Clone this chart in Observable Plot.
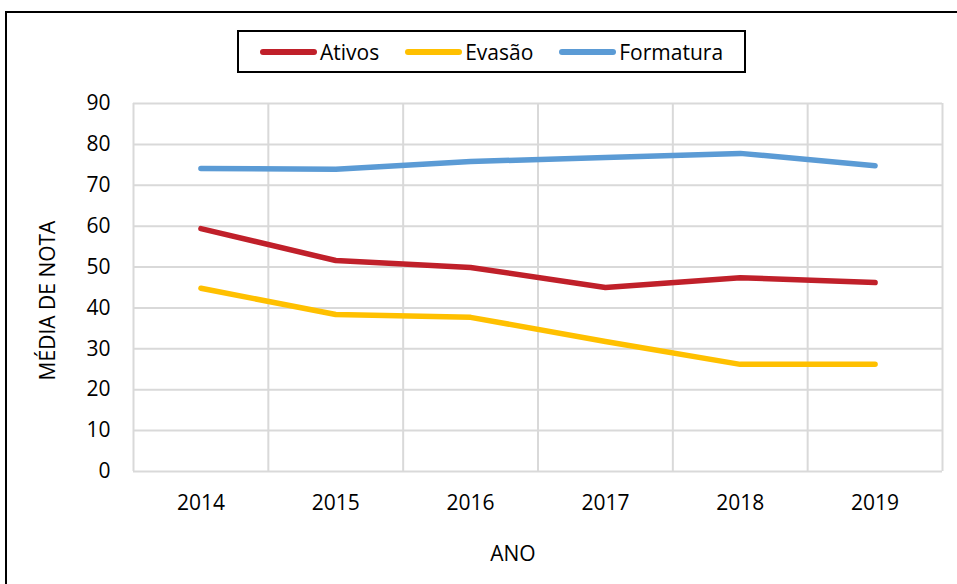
<!DOCTYPE html>
<html>
<head>
<meta charset="utf-8">
<script src="https://cdn.jsdelivr.net/npm/d3@7"></script>
<script src="https://cdn.jsdelivr.net/npm/@observablehq/plot@0.6"></script>
<style>
  html, body { margin: 0; padding: 0; background: #fff; }
  #wrap { position: relative; width: 957px; height: 584px; overflow: hidden; font-family: "Open Sans", sans-serif; }
  #frame { position: absolute; left: 5px; top: 11px; width: 960px; height: 600px; border: 2px solid #000; box-sizing: border-box; }
  #legend { position: absolute; left: 237px; top: 30px; width: 509px; height: 43px; border: 2px solid #000; box-sizing: border-box;
            display: flex; align-items: center; justify-content: center; gap: 26px; font-size: 21px; color: #000; }
  .item { display: flex; align-items: center; gap: 3px; }
  .sw { display: inline-block; width: 57px; height: 6px; border-radius: 3px; }
  #chart { position: absolute; left: 0; top: 0; }
</style>
</head>
<body>
<div id="wrap">
  <div id="chart"></div>
  <div id="frame"></div>
  <div id="legend"></div>
</div>
<script>
const years = [2014, 2015, 2016, 2017, 2018, 2019];
const seriesNames = ["Ativos", "Evasão", "Formatura"];
const ativos = [59.4, 51.6, 49.9, 45.0, 47.4, 46.2];
const evasao = [44.8, 38.4, 37.7, 31.8, 26.2, 26.2];
const formatura = [74.1, 73.9, 75.8, 76.8, 77.8, 74.8];
const colors = ["#c0202a", "#ffc000", "#5b9bd5"];
const yTicks = [0, 10, 20, 30, 40, 50, 60, 70, 80, 90];
const boundaries = [2013.5, 2014.5, 2015.5, 2016.5, 2017.5, 2018.5, 2019.5];

const values = [ativos, evasao, formatura];
const data = [];
seriesNames.forEach((s, i) => years.forEach((y, j) => data.push({ serie: s, ano: y, nota: values[i][j] })));

const plot = Plot.plot({
  width: 957,
  height: 584,
  marginLeft: 133,
  marginRight: 15,
  marginTop: 103,
  marginBottom: 113,
  style: { fontFamily: "Open Sans, sans-serif", fontSize: "21px", color: "#000", background: "transparent" },
  x: { domain: [2013.5, 2019.5], ticks: years, tickFormat: d => String(d), label: null },
  y: { domain: [0, 90], ticks: yTicks, label: null },
  color: { domain: seriesNames, range: colors },
  marks: [
    Plot.ruleY(yTicks, { stroke: "#d9d9d9", strokeWidth: 2 }),
    Plot.ruleX(boundaries, { stroke: "#d9d9d9", strokeWidth: 2 }),
    Plot.axisY({ ticks: yTicks, tickSize: 0, tickPadding: 23, fontSize: 21 }),
    Plot.axisX({ ticks: years, tickSize: 0, tickPadding: 24, fontSize: 21, tickFormat: d => String(d) }),
    Plot.line(data, { x: "ano", y: "nota", z: "serie", stroke: "serie", strokeWidth: 5.5, strokeLinecap: "round", strokeLinejoin: "round" }),
    Plot.text(["ANO"], { frameAnchor: "bottom", dx: -25, dy: 89, text: d => d, fontSize: 21 }),
    Plot.text(["MÉDIA DE NOTA"], { frameAnchor: "left", textAnchor: "middle", dx: -85, dy: 13, rotate: -90, text: d => d, fontSize: 21 })
  ]
});
document.getElementById("chart").appendChild(plot);

const legend = document.getElementById("legend");
seriesNames.forEach((s, i) => {
  const it = document.createElement("div");
  it.className = "item";
  const sw = document.createElement("span");
  sw.className = "sw";
  sw.style.background = colors[i];
  const t = document.createElement("span");
  t.textContent = s;
  it.appendChild(sw); it.appendChild(t);
  legend.appendChild(it);
});
</script>
</body>
</html>
